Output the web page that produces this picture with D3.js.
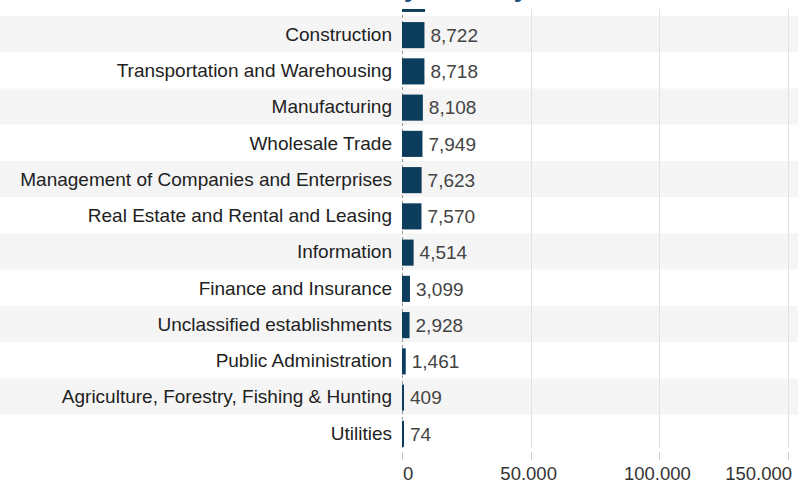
<!DOCTYPE html>
<html>
<head>
<meta charset="utf-8">
<script src="https://cdn.jsdelivr.net/npm/d3@7"></script>
<style>
  body { margin: 0; background: #fff; }
  svg { display: block; font-family: "Liberation Sans", Arial, sans-serif; }
</style>
</head>
<body>
<div id="chart"></div>
<script>
// Rows, top to bottom. The first one is scrolled out of view and only its bar edge shows.
const categories = [
  "Retail Trade",
  "Construction",
  "Transportation and Warehousing",
  "Manufacturing",
  "Wholesale Trade",
  "Management of Companies and Enterprises",
  "Real Estate and Rental and Leasing",
  "Information",
  "Finance and Insurance",
  "Unclassified establishments",
  "Public Administration",
  "Agriculture, Forestry, Fishing & Hunting",
  "Utilities"
];
const values = [8950, 8722, 8718, 8108, 7949, 7623, 7570, 4514, 3099, 2928, 1461, 409, 74];
const xTicks = [0, 50000, 100000, 150000];
const titleText = "Establishments by Industry";

const width = 798, height = 482;
const data = categories.map((c, i) => ({ name: c, value: values[i] }));

const svg = d3.select("#chart").append("svg")
    .attr("width", width)
    .attr("height", height);

// Scales
const rowH = 36.25;
const y = d3.scaleBand()
    .domain(categories)
    .range([16 - rowH, 16 + rowH * (categories.length - 1)])
    .paddingInner(0)
    .paddingOuter(0);

const x = d3.scaleLinear()
    .domain([0, 150000])
    .range([402, 788]);

const comma = d3.format(",");
const dotLocale = d3.formatLocale({ decimal: ",", thousands: ".", grouping: [3], currency: ["", ""] });
const dotFmt = dotLocale.format(",");

// Title (mostly cut off at the top edge)
const title = svg.append("text")
    .attr("y", -3)
    .attr("font-size", 26)
    .attr("font-weight", "bold")
    .attr("fill", "#1f4e79")
    .text(titleText);
// place so the "y" of "by" sits at about x = 404
const idx = titleText.indexOf("by") + 1;
const off = title.node().getSubStringLength(0, idx);
title.attr("x", 404 - off);

svg.append("clipPath").attr("id", "plot-clip")
  .append("rect").attr("x", 0).attr("y", 9).attr("width", width).attr("height", 440);

const plot = svg.append("g").attr("clip-path", "url(#plot-clip)");

// only rows whose middle is inside the view get text labels
const visible = data.filter(d => y(d.name) + y.bandwidth() / 2 > 9);

// Alternating row bands
plot.selectAll(".band")
  .data(data)
  .join("rect")
    .attr("class", "band")
    .attr("x", 0)
    .attr("y", d => y(d.name))
    .attr("width", width)
    .attr("height", y.bandwidth())
    .attr("fill", (d, i) => i % 2 === 1 ? "#f5f5f5" : "#fff");

// Gridlines
plot.selectAll(".grid")
  .data(xTicks.slice(1))
  .join("line")
    .attr("class", "grid")
    .attr("x1", d => Math.round(x(d)) + 0.5)
    .attr("x2", d => Math.round(x(d)) + 0.5)
    .attr("y1", 9)
    .attr("y2", 448)
    .attr("stroke", "#e2e2e2");

// Zero line (dashed)
plot.append("line")
    .attr("x1", x(0) + 0.5).attr("x2", x(0) + 0.5)
    .attr("y1", 9).attr("y2", 448)
    .attr("stroke", "#999")
    .attr("stroke-dasharray", "3,3");

// Bars
const barPad = 0.14;
plot.selectAll(".bar")
  .data(data)
  .join("rect")
    .attr("class", "bar")
    .attr("x", x(0))
    .attr("y", d => y(d.name) + y.bandwidth() * barPad + 1)
    .attr("width", d => Math.max(2, x(d.value) - x(0)))
    .attr("height", y.bandwidth() * (1 - 2 * barPad))
    .attr("fill", "#0d3d5c");

// Category labels
plot.selectAll(".cat")
  .data(visible)
  .join("text")
    .attr("class", "cat")
    .attr("x", 392)
    .attr("y", d => y(d.name) + y.bandwidth() / 2)
    .attr("dy", "0.35em")
    .attr("text-anchor", "end")
    .attr("font-size", 19)
    .attr("fill", "#222")
    .text(d => d.name);

// Value labels
plot.selectAll(".val")
  .data(visible)
  .join("text")
    .attr("class", "val")
    .attr("x", d => x(0) + Math.max(2, x(d.value) - x(0)) + 6)
    .attr("y", d => y(d.name) + y.bandwidth() / 2 + 1)
    .attr("dy", "0.35em")
    .attr("font-size", 19)
    .attr("fill", "#444")
    .text(d => comma(d.value));

// X axis
const axis = svg.append("g").attr("transform", "translate(0,452)");
axis.selectAll(".tick")
  .data(xTicks)
  .join("line")
    .attr("x1", d => Math.round(x(d)) + 0.5)
    .attr("x2", d => Math.round(x(d)) + 0.5)
    .attr("y1", 0).attr("y2", 8)
    .attr("stroke", "#ccc");

axis.selectAll(".tlabel")
  .data(xTicks)
  .join("text")
    .attr("class", "tlabel")
    .attr("x", (d, i) => i === 0 ? x(d) + 1 : i === xTicks.length - 1 ? x(d) + 4 : x(d) - 2)
    .attr("y", 28)
    .attr("text-anchor", (d, i) => i === 0 ? "start" : i === xTicks.length - 1 ? "end" : "middle")
    .attr("font-size", 18.5)
    .attr("fill", "#333")
    .text(d => dotFmt(d));
</script>
</body>
</html>
